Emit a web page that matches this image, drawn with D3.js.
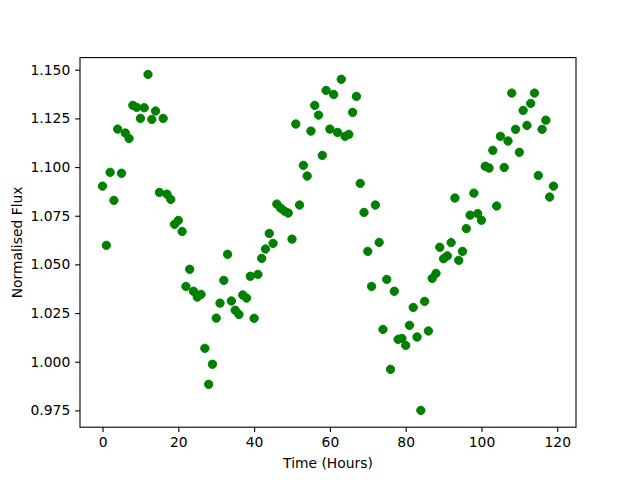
<!DOCTYPE html>
<html>
<head>
<meta charset="utf-8">
<script src="https://cdn.jsdelivr.net/npm/d3@7"></script>
<style>
  html, body { margin: 0; padding: 0; background: #fff; }
  svg { display: block; }
  text { font-family: "DejaVu Sans", sans-serif; }
</style>
</head>
<body>
<svg id="chart" width="640" height="480"></svg>
<script>
// Time in hours (one reading per hour)
const hours = d3.range(0, 120);
// Normalised flux
const flux = [
  1.0902, 1.0598, 1.0973, 1.0829, 1.1195, 1.0968, 1.1175, 1.1147, 1.1317, 1.1307,
  1.1250, 1.1305, 1.1476, 1.1245, 1.1288, 1.0870, 1.1250, 1.0861, 1.0834, 1.0706,
  1.0726, 1.0669, 1.0387, 1.0475, 1.0362, 1.0332, 1.0346, 1.0069, 0.9884, 0.9987,
  1.0224, 1.0301, 1.0418, 1.0552, 1.0312, 1.0265, 1.0243, 1.0343, 1.0327, 1.0439,
  1.0223, 1.0449, 1.0531, 1.0579, 1.0659, 1.0608, 1.0810, 1.0789, 1.0774, 1.0764,
  1.0630, 1.1221, 1.0805, 1.1009, 1.0954, 1.1185, 1.1317, 1.1267, 1.1060, 1.1394,
  1.1195, 1.1373, 1.1178, 1.1451, 1.1158, 1.1168, 1.1281, 1.1363, 1.0916, 1.0767,
  1.0567, 1.0387, 1.0805, 1.0613, 1.0166, 1.0423, 0.9961, 1.0362, 1.0115, 1.0120,
  1.0084, 1.0187, 1.0279, 1.0127, 0.9750, 1.0310, 1.0158, 1.0428, 1.0454, 1.0588,
  1.0529, 1.0544, 1.0612, 1.0841, 1.0521, 1.0567, 1.0684, 1.0753, 1.0866, 1.0761,
  1.0727, 1.1004, 1.0995, 1.1086, 1.0800, 1.1158, 1.0998, 1.1134, 1.1380, 1.1194,
  1.1076, 1.1291, 1.1214, 1.1327, 1.1380, 1.0957, 1.1194, 1.1241, 1.0846, 1.0902
];
const xTicks = [0, 20, 40, 60, 80, 100, 120];
const yTicks = [0.975, 1.000, 1.025, 1.050, 1.075, 1.100, 1.125, 1.150];
const xLabel = "Time (Hours)";
const yLabel = "Normalised Flux";

const data = hours.map((h, i) => ({ t: h, f: flux[i] }));

const svg = d3.select("#chart");
const M = { left: 80, right: 576, top: 57.6, bottom: 427.2 };
const tickLen = 4.86, tickPad = 4.86, fs = 13.89;

function padded(ext) {
  const r = ext[1] - ext[0];
  return [ext[0] - 0.05 * r, ext[1] + 0.05 * r];
}
const x = d3.scaleLinear().domain(padded(d3.extent(hours))).range([M.left, M.right]);
const y = d3.scaleLinear().domain(padded(d3.extent(flux))).range([M.bottom, M.top]);

// points
svg.append("g")
  .selectAll("circle")
  .data(data)
  .join("circle")
  .attr("cx", d => x(d.t))
  .attr("cy", d => y(d.f))
  .attr("r", 4.17)
  .attr("fill", "#008000")
  .attr("stroke", "#008000")
  .attr("stroke-width", 1);

// axes
const xAxis = d3.axisBottom(x).tickValues(xTicks).tickFormat(d3.format("d"))
  .tickSize(tickLen).tickPadding(tickPad).tickSizeOuter(0);
const yAxis = d3.axisLeft(y).tickValues(yTicks).tickFormat(d3.format(".3f"))
  .tickSize(tickLen).tickPadding(tickPad).tickSizeOuter(0);

const gx = svg.append("g").attr("transform", `translate(0,${M.bottom})`).call(xAxis);
const gy = svg.append("g").attr("transform", `translate(${M.left},0)`).call(yAxis);
[gx, gy].forEach(g => {
  g.select(".domain").remove();
  g.selectAll(".tick line").attr("stroke", "#000").attr("stroke-width", 1.1);
  g.selectAll(".tick text").attr("fill", "#000").style("font-size", fs + "px")
    .style("font-family", "'DejaVu Sans', sans-serif");
});

// spines
svg.append("rect")
  .attr("x", M.left).attr("y", M.top)
  .attr("width", M.right - M.left).attr("height", M.bottom - M.top)
  .attr("fill", "none").attr("stroke", "#000").attr("stroke-width", 1.1);

// axis labels
svg.append("text")
  .attr("x", (M.left + M.right) / 2).attr("y", 468)
  .attr("text-anchor", "middle")
  .style("font-size", fs + "px")
  .text(xLabel);

svg.append("text")
  .attr("transform", `translate(22,${(M.top + M.bottom) / 2}) rotate(-90)`)
  .attr("text-anchor", "middle")
  .style("font-size", fs + "px")
  .text(yLabel);
</script>
</body>
</html>
